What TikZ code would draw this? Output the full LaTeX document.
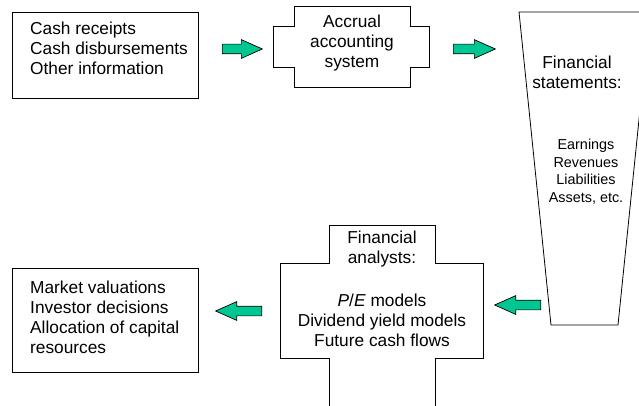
\documentclass[tikz,border=0pt]{standalone}
\usepackage{fontspec}
\setmainfont{Liberation Sans}
\usetikzlibrary{shapes.arrows, positioning}
\definecolor{flowgreen}{RGB}{0,199,145}

\begin{document}
\begin{tikzpicture}[
    x=1pt, y=-1pt,
    box/.style     = {draw, line width=0.8pt, inner sep=0pt},
    outline/.style = {draw, line width=0.8pt},
    txt/.style     = {inner sep=0pt, align=left,
                      font=\fontsize{17.3}{20}\selectfont},
    ctxt/.style    = {txt, align=center},
    stxt/.style    = {inner sep=0pt, align=center,
                      font=\fontsize{14.4}{17.5}\selectfont},
    flow/.style    = {single arrow, draw, fill=flowgreen, line width=0.7pt,
                      minimum width=18pt, single arrow head extend=4.5pt,
                      single arrow tip angle=48, inner xsep=0pt,
                      inner ysep=4.5pt, text height=0pt, text depth=0pt,
                      anchor=tail}
  ]
  \useasboundingbox (0,0) rectangle (639,406);
  \clip (0,0) rectangle (639,406);

  \node[box, minimum width=186pt, minimum height=86pt] (inbox) at (105,55) {};
  \node[txt, anchor=west] (intext) at (30,48.5)
       {Cash receipts\\Cash disbursements\\Other information};

  \draw[outline] (294,6) -- (410,6) -- (410,26) -- (429,26) -- (429,67)
       -- (410,67) -- (410,87) -- (294,87) -- (294,67) -- (273,67)
       -- (273,26) -- (294,26) -- cycle;
  \node[ctxt] (accrual) at (352,43) {Accrual\\accounting\\system};

  \draw[outline] (519,12) -- (650,12) -- (618,325) -- (551,325) -- cycle;
  \node[ctxt] (stmts) at (577,72) {Financial\\statements:};
  \node[stxt] (items) at (586,171.5)
       {Earnings\\Revenues\\Liabilities\\Assets, etc.};

  \draw[outline] (435,420) -- (435,358) -- (483,358) -- (483,263)
       -- (435,263) -- (435,225) -- (329,225) -- (329,263) -- (280,263)
       -- (280,358) -- (329,358) -- (329,420);
  \node[ctxt] (analysts) at (382,288.5)
       {Financial\\analysts:\\[23pt]\textit{P}/\textit{E} models\\
        Dividend yield models\\Future cash flows};

  \node[box, minimum width=186pt, minimum height=104pt] (outbox) at (105,320) {};
  \node[txt, anchor=west] (outtext) at (30,317.5)
       {Market valuations\\Investor decisions\\Allocation of capital\\resources};

  \node[flow, minimum height=40pt] (arr1) at (222,49) {};
  \node[flow, minimum height=42pt] (arr2) at (453,49) {};
  \node[flow, minimum height=46pt, shape border rotate=180] (arr3) at (541,305) {};
  \node[flow, minimum height=46pt, shape border rotate=180] (arr4) at (262,311) {};
\end{tikzpicture}
\end{document}
